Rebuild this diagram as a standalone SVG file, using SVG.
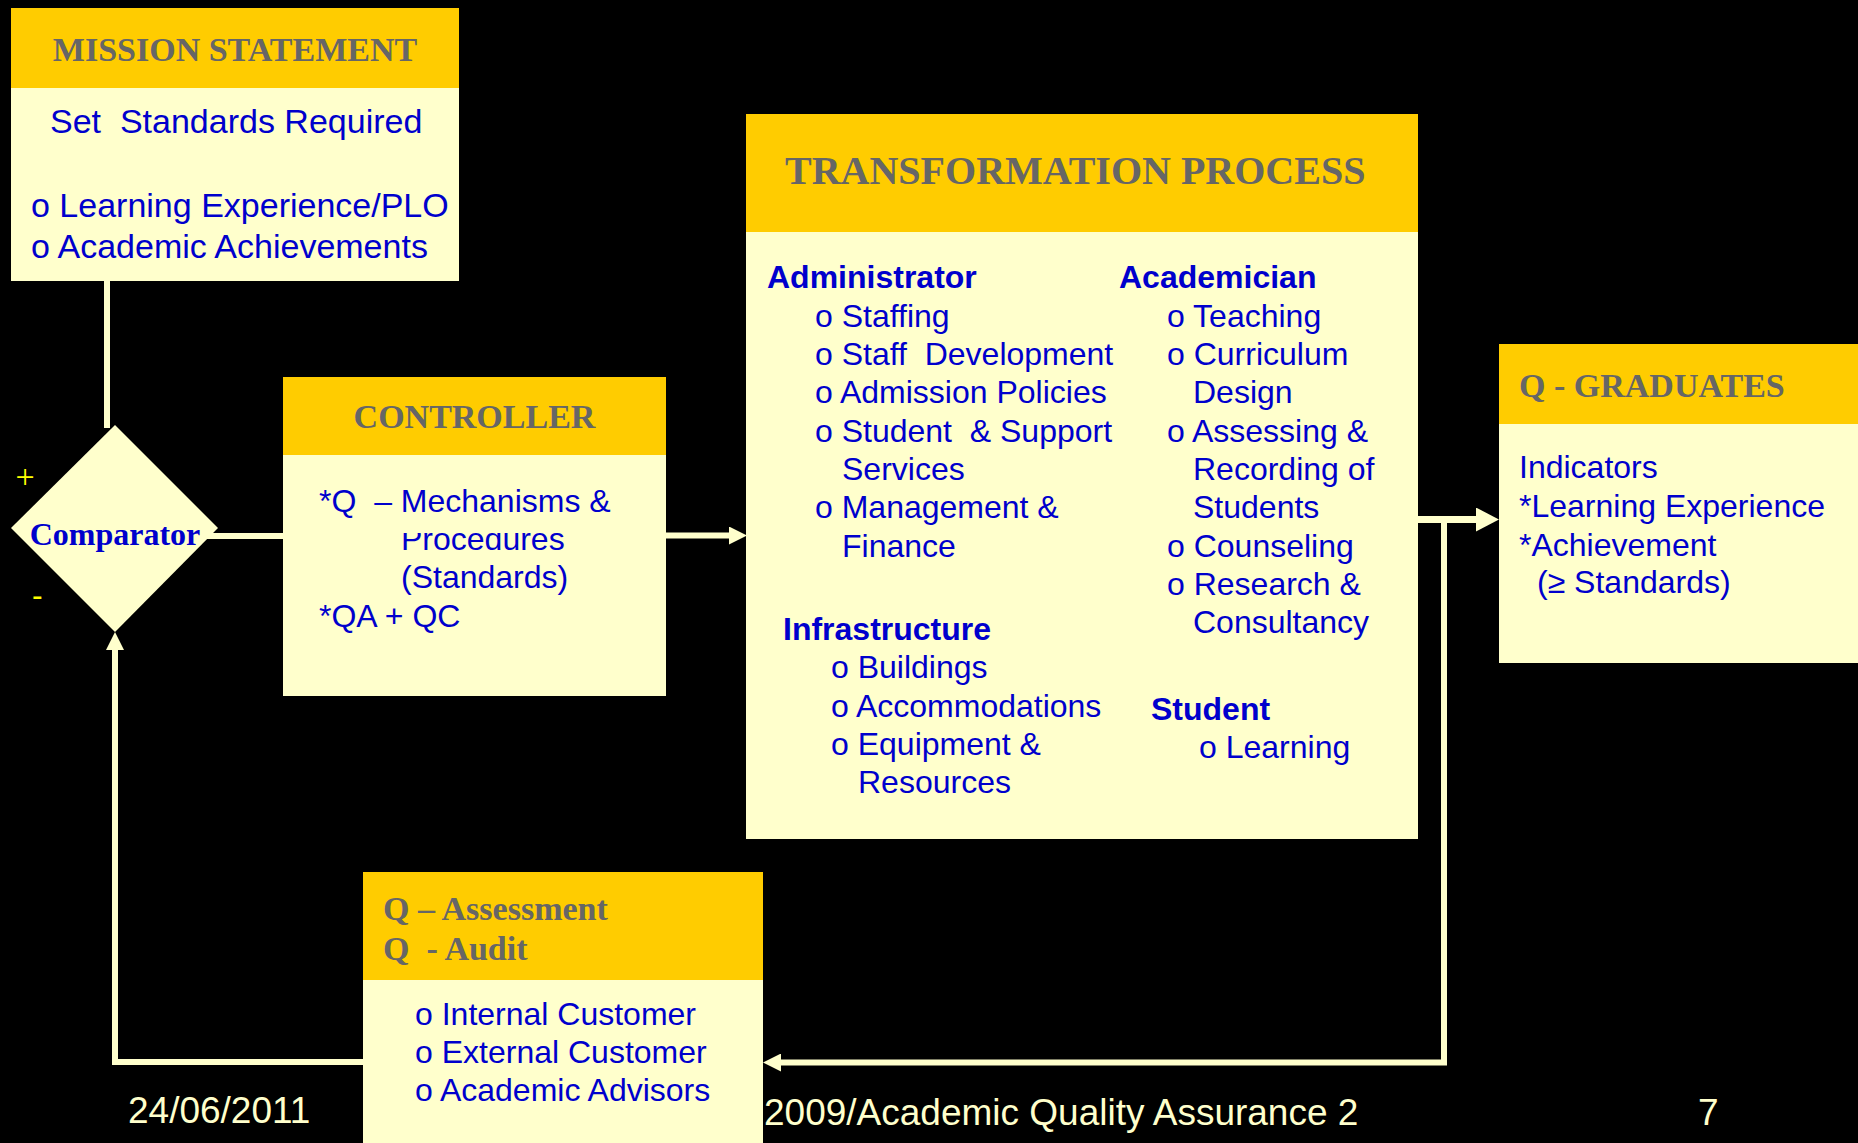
<svg xmlns="http://www.w3.org/2000/svg" width="1858" height="1143" viewBox="0 0 1858 1143">
  <defs>
    <style>
      text { white-space: pre; }
      .hdr { fill: #FFCC00; }
      .body { fill: #FFFFCC; }
      .title { font-family: "Liberation Serif", "Times New Roman", serif; font-weight: bold; font-size: 34px; fill: #666666; }
      .txt { font-family: "Liberation Sans", Arial, sans-serif; font-size: 32px; fill: #0000CC; }
      .big { font-size: 34px; }
      .bold { font-weight: bold; }
      .wire { fill: none; stroke: #FFFFCC; stroke-width: 6; stroke-linejoin: miter; }
      .foot { font-family: "Liberation Sans", Arial, sans-serif; font-size: 37px; fill: #FFFFCC; }
      .sign { fill: #FFFF00; }
    </style>
    <marker id="arrow" markerUnits="userSpaceOnUse" viewBox="0 0 18 18" refX="0" refY="9" markerWidth="18" markerHeight="18" orient="auto">
      <path d="M0,0 L18,9 L0,18 z" fill="#FFFFCC"/>
    </marker>
    <marker id="arrowBig" markerUnits="userSpaceOnUse" viewBox="0 0 23 24" refX="0" refY="12" markerWidth="23" markerHeight="24" orient="auto">
      <path d="M0,0 L23,12 L0,24 z" fill="#FFFFCC"/>
    </marker>
    <clipPath id="cutTop">
      <rect x="330" y="533" width="300" height="40"/>
    </clipPath>
  </defs>

  <rect x="0" y="0" width="1858" height="1143" fill="#000000"/>

  <!-- connectors -->
  <g id="connectors">
    <line class="wire" x1="107" y1="280" x2="107" y2="428"/>
    <line class="wire" x1="200" y1="536" x2="284" y2="536"/>
    <line class="wire" x1="665" y1="535.5" x2="729" y2="535.5" marker-end="url(#arrow)"/>
    <line class="wire" x1="1417" y1="519.5" x2="1476" y2="519.5" style="stroke-width:7" marker-end="url(#arrowBig)"/>
    <polyline class="wire" points="1444,519 1444,1062.5 781,1062.5" marker-end="url(#arrow)"/>
    <polyline class="wire" points="365,1062 115,1062 115,650" marker-end="url(#arrow)"/>
  </g>

  <!-- mission statement -->
  <g id="mission">
    <rect class="body" x="11" y="8" width="448" height="273"/>
    <rect class="hdr" x="11" y="8" width="448" height="80"/>
    <text class="title" x="235" y="61" text-anchor="middle">MISSION STATEMENT</text>
    <text class="txt big" x="50" y="133">Set  Standards Required</text>
    <text class="txt big" x="31" y="217">o Learning Experience/PLO</text>
    <text class="txt big" x="31" y="258">o Academic Achievements</text>
  </g>

  <!-- comparator -->
  <g id="comparator">
    <polygon class="body" points="115,425 218,528 115,632 11,528"/>
    <text x="115" y="545" text-anchor="middle" font-family="Liberation Serif, Times New Roman, serif" font-weight="bold" font-size="32" fill="#0000CC">Comparator</text>
    <text class="sign" x="25" y="488" text-anchor="middle" font-family="Liberation Serif, Times New Roman, serif" font-size="34">+</text>
    <text class="sign" x="32" y="606" font-family="Liberation Sans, Arial, sans-serif" font-size="32">-</text>
  </g>

  <!-- controller -->
  <g id="controller">
    <rect class="body" x="283" y="377" width="383" height="319"/>
    <rect class="hdr" x="283" y="377" width="383" height="78"/>
    <text class="title" x="474.5" y="428" text-anchor="middle">CONTROLLER</text>
    <text class="txt" x="319" y="512">*Q  – Mechanisms &amp;</text>
    <text class="txt" x="401" y="550" clip-path="url(#cutTop)">Procedures</text>
    <text class="txt" x="401" y="588">(Standards)</text>
    <text class="txt" x="319" y="627">*QA + QC</text>
  </g>

  <!-- transformation process -->
  <g id="transformation">
    <rect class="body" x="746" y="114" width="672" height="725"/>
    <rect class="hdr" x="746" y="114" width="672" height="118"/>
    <text class="title" x="785" y="184" style="font-size:40px">TRANSFORMATION PROCESS</text>

    <text class="txt bold" x="767" y="288">Administrator</text>
    <text class="txt" x="815" y="327">o Staffing</text>
    <text class="txt" x="815" y="365">o Staff  Development</text>
    <text class="txt" x="815" y="403">o Admission Policies</text>
    <text class="txt" x="815" y="442">o Student  &amp; Support</text>
    <text class="txt" x="842" y="480">Services</text>
    <text class="txt" x="815" y="518">o Management &amp;</text>
    <text class="txt" x="842" y="557">Finance</text>

    <text class="txt bold" x="783" y="640">Infrastructure</text>
    <text class="txt" x="831" y="678">o Buildings</text>
    <text class="txt" x="831" y="717">o Accommodations</text>
    <text class="txt" x="831" y="755">o Equipment &amp;</text>
    <text class="txt" x="858" y="793">Resources</text>

    <text class="txt bold" x="1119" y="288">Academician</text>
    <text class="txt" x="1167" y="327">o Teaching</text>
    <text class="txt" x="1167" y="365">o Curriculum</text>
    <text class="txt" x="1193" y="403">Design</text>
    <text class="txt" x="1167" y="442">o Assessing &amp;</text>
    <text class="txt" x="1193" y="480">Recording of</text>
    <text class="txt" x="1193" y="518">Students</text>
    <text class="txt" x="1167" y="557">o Counseling</text>
    <text class="txt" x="1167" y="595">o Research &amp;</text>
    <text class="txt" x="1193" y="633">Consultancy</text>

    <text class="txt bold" x="1151" y="720">Student</text>
    <text class="txt" x="1199" y="758">o Learning</text>
  </g>

  <!-- quality graduates -->
  <g id="graduates">
    <rect class="body" x="1499" y="344" width="359" height="319"/>
    <rect class="hdr" x="1499" y="344" width="359" height="80"/>
    <text class="title" x="1519" y="397">Q - GRADUATES</text>
    <text class="txt" x="1519" y="478">Indicators</text>
    <text class="txt" x="1519" y="517">*Learning Experience</text>
    <text class="txt" x="1519" y="556">*Achievement</text>
    <text class="txt" x="1537" y="593">(≥ Standards)</text>
  </g>

  <!-- assessment and audit -->
  <g id="assessment">
    <rect class="body" x="363" y="872" width="400" height="271"/>
    <rect class="hdr" x="363" y="872" width="400" height="108"/>
    <text class="title" x="383" y="920">Q – Assessment</text>
    <text class="title" x="383" y="960">Q  - Audit</text>
    <text class="txt" x="415" y="1025">o Internal Customer</text>
    <text class="txt" x="415" y="1063">o External Customer</text>
    <text class="txt" x="415" y="1101">o Academic Advisors</text>
  </g>

  <!-- footer -->
  <g id="footer">
    <text class="foot" x="128" y="1123">24/06/2011</text>
    <text class="foot" x="764" y="1125">2009/Academic Quality Assurance 2</text>
    <text class="foot" x="1698" y="1125">7</text>
  </g>
</svg>
